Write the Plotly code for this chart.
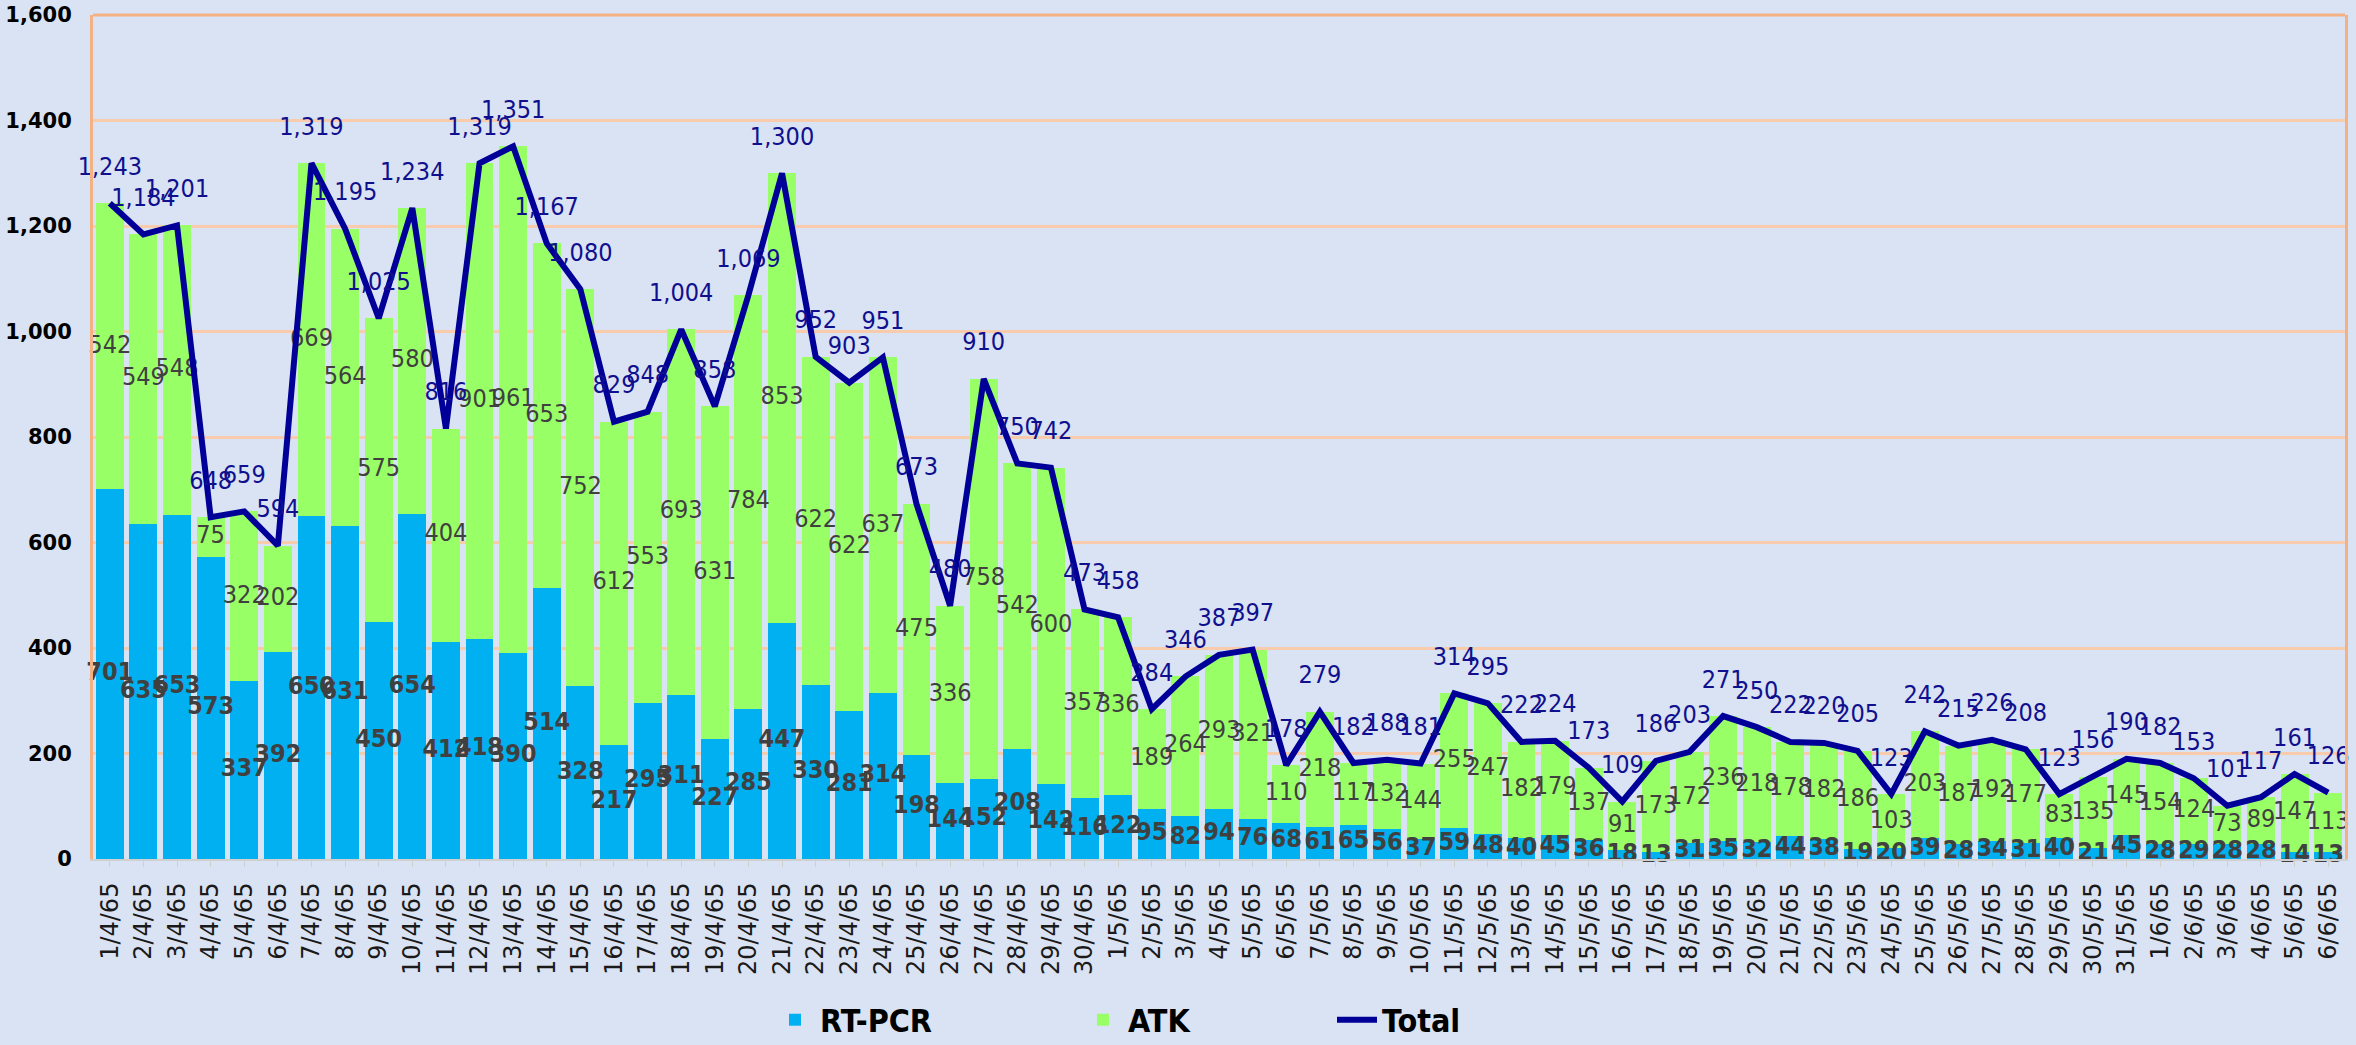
import plotly.graph_objects as go

dates = ["1/4/65","2/4/65","3/4/65","4/4/65","5/4/65","6/4/65","7/4/65","8/4/65","9/4/65","10/4/65",
         "11/4/65","12/4/65","13/4/65","14/4/65","15/4/65","16/4/65","17/4/65","18/4/65","19/4/65","20/4/65",
         "21/4/65","22/4/65","23/4/65","24/4/65","25/4/65","26/4/65","27/4/65","28/4/65","29/4/65","30/4/65",
         "1/5/65","2/5/65","3/5/65","4/5/65","5/5/65","6/5/65","7/5/65","8/5/65","9/5/65","10/5/65",
         "11/5/65","12/5/65","13/5/65","14/5/65","15/5/65","16/5/65","17/5/65","18/5/65","19/5/65","20/5/65",
         "21/5/65","22/5/65","23/5/65","24/5/65","25/5/65","26/5/65","27/5/65","28/5/65","29/5/65","30/5/65",
         "31/5/65","1/6/65","2/6/65","3/6/65","4/6/65","5/6/65","6/6/65"]

rt_pcr = [701,635,653,573,337,392,650,631,450,654,
          412,418,390,514,328,217,295,311,227,285,
          447,330,281,314,198,144,152,208,142,116,
          122,95,82,94,76,68,61,65,56,37,
          59,48,40,45,36,18,13,31,35,32,
          44,38,19,20,39,28,34,31,40,21,
          45,28,29,28,28,14,13]

atk = [542,549,548,75,322,202,669,564,575,580,
       404,901,961,653,752,612,553,693,631,784,
       853,622,622,637,475,336,758,542,600,357,
       336,189,264,293,321,110,218,117,132,144,
       255,247,182,179,137,91,173,172,236,218,
       178,182,186,103,203,187,192,177,83,135,
       145,154,124,73,89,147,113]

total = [1243,1184,1201,648,659,594,1319,1195,1025,1234,
         816,1319,1351,1167,1080,829,848,1004,858,1069,
         1300,952,903,951,673,480,910,750,742,473,
         458,284,346,387,397,178,279,182,188,181,
         314,295,222,224,173,109,186,203,271,250,
         222,220,205,123,242,215,226,208,123,156,
         190,182,153,101,117,161,126]

y_ticks = [0, 200, 400, 600, 800, 1000, 1200, 1400, 1600]

BLUE = "#00B0F0"
GREEN = "#99FF66"
NAVY = "#000099"
BG = "#DAE3F3"
LABEL_FONT = "DejaVu Sans Condensed, Liberation Sans Narrow, Liberation Sans, sans-serif"

fig = go.Figure()
fig.add_trace(go.Bar(x=dates, y=rt_pcr, name="RT-PCR", marker=dict(color=BLUE, line=dict(width=0)),
                     legend="legend", hoverinfo="x+y"))
fig.add_trace(go.Bar(x=dates, y=atk, name="ATK", marker=dict(color=GREEN, line=dict(width=0)),
                     legend="legend2", hoverinfo="x+y"))

# segment labels (centered in each stacked segment)
fig.add_trace(go.Scatter(x=dates, y=[v / 2 for v in rt_pcr], mode="text",
                         text=[str(v) for v in rt_pcr], textposition="middle center",
                         textfont=dict(family=LABEL_FONT, size=25, color="#404040", weight="bold"),
                         showlegend=False, hoverinfo="skip", cliponaxis=False))
fig.add_trace(go.Scatter(x=dates, y=[r + a / 2 for r, a in zip(rt_pcr, atk)], mode="text",
                         text=[str(v) for v in atk], textposition="middle center",
                         textfont=dict(family=LABEL_FONT, size=25, color="#404040"),
                         showlegend=False, hoverinfo="skip", cliponaxis=False))

fig.add_trace(go.Scatter(x=dates, y=total, name="Total", mode="lines+markers+text",
                         line=dict(color=NAVY, width=6),
                         marker=dict(size=34, color="rgba(0,0,0,0)"),
                         text=[f"{v:,}" for v in total], textposition="top center",
                         textfont=dict(family=LABEL_FONT, size=25, color="#10108F"),
                         legend="legend3", cliponaxis=False))

legend_font = dict(family="DejaVu Sans Condensed, Liberation Sans Narrow, sans-serif", size=32,
                   color="#000000", weight="bold")
leg_common = dict(orientation="h", xref="container", yref="container", y=0.024,
                  yanchor="middle", xanchor="left",
                  bgcolor="rgba(0,0,0,0)", font=legend_font, itemwidth=40)

fig.update_layout(
    width=2356, height=1045,
    barmode="stack", bargap=0.17,
    paper_bgcolor=BG, plot_bgcolor=BG,
    margin=dict(l=93, r=11, t=15, b=186, autoexpand=False),
    legend=dict(x=770 / 2356, **leg_common),
    legend2=dict(x=1078 / 2356, **leg_common),
    legend3=dict(x=1332 / 2356, **leg_common),
    xaxis=dict(range=[-0.5, len(dates) - 0.5], tickangle=-90, automargin=False,
               tickfont=dict(family="DejaVu Sans", size=24, color="#1a1a1a"),
               showline=True, linecolor="#D0D0D0", linewidth=2, ticks="outside",
               tickcolor="#D0D0D0", ticklen=6, showgrid=False, ticklabelstandoff=6),
    yaxis=dict(range=[0, 1600], tickvals=y_ticks, tickformat=",d", automargin=False,
               tickfont=dict(family="DejaVu Sans", size=21, color="#000000", weight="bold"),
               gridcolor="#F8CBAD", gridwidth=3, showline=True, linecolor="#F4B183",
               linewidth=3, mirror=True, zeroline=False, ticklabelstandoff=14),
    shapes=[dict(type="line", xref="paper", yref="paper", x0=0, x1=1, y0=1, y1=1,
                 line=dict(color="#F4B183", width=3))],
    showlegend=True,
)

fig.write_html(
    "out.html",
    config={"displayModeBar": False},
    post_script="document.body.style.margin='0';document.body.style.overflow='hidden';"
                "document.body.style.background='#DAE3F3';",
)
